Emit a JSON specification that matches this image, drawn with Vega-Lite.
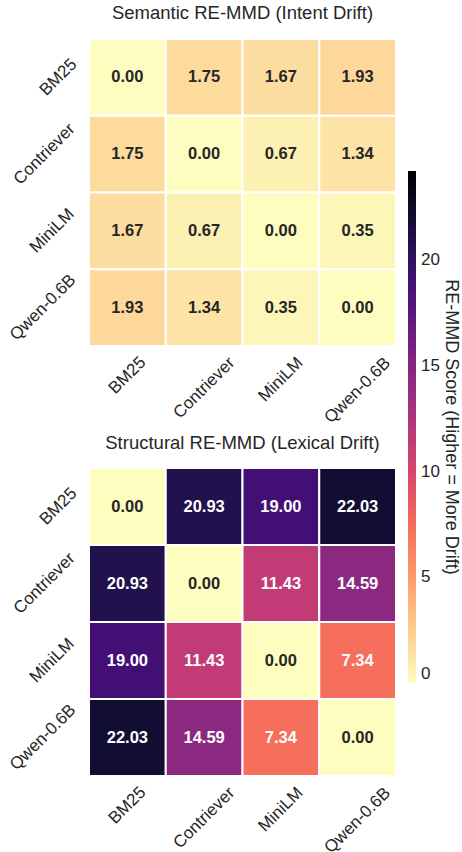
{
  "$schema": "https://vega.github.io/schema/vega-lite/v6.json",
  "padding": {"left": 6, "top": 3, "right": 2, "bottom": 20},
  "bounds": "flush",
  "spacing": 122,
  "config": {
    "font": "Liberation Sans",
    "view": {"stroke": null},
    "axis": {"labelFont": "Liberation Sans", "labelColor": "#262626", "labelFontSize": 17}
  },
  "data": {
    "values": [
      {"panel": "Semantic", "row": "BM25", "col": "BM25", "value": 0.0},
      {"panel": "Semantic", "row": "BM25", "col": "Contriever", "value": 1.75},
      {"panel": "Semantic", "row": "BM25", "col": "MiniLM", "value": 1.67},
      {"panel": "Semantic", "row": "BM25", "col": "Qwen-0.6B", "value": 1.93},
      {"panel": "Semantic", "row": "Contriever", "col": "BM25", "value": 1.75},
      {"panel": "Semantic", "row": "Contriever", "col": "Contriever", "value": 0.0},
      {"panel": "Semantic", "row": "Contriever", "col": "MiniLM", "value": 0.67},
      {"panel": "Semantic", "row": "Contriever", "col": "Qwen-0.6B", "value": 1.34},
      {"panel": "Semantic", "row": "MiniLM", "col": "BM25", "value": 1.67},
      {"panel": "Semantic", "row": "MiniLM", "col": "Contriever", "value": 0.67},
      {"panel": "Semantic", "row": "MiniLM", "col": "MiniLM", "value": 0.0},
      {"panel": "Semantic", "row": "MiniLM", "col": "Qwen-0.6B", "value": 0.35},
      {"panel": "Semantic", "row": "Qwen-0.6B", "col": "BM25", "value": 1.93},
      {"panel": "Semantic", "row": "Qwen-0.6B", "col": "Contriever", "value": 1.34},
      {"panel": "Semantic", "row": "Qwen-0.6B", "col": "MiniLM", "value": 0.35},
      {"panel": "Semantic", "row": "Qwen-0.6B", "col": "Qwen-0.6B", "value": 0.0},
      {"panel": "Structural", "row": "BM25", "col": "BM25", "value": 0.0},
      {"panel": "Structural", "row": "BM25", "col": "Contriever", "value": 20.93},
      {"panel": "Structural", "row": "BM25", "col": "MiniLM", "value": 19.0},
      {"panel": "Structural", "row": "BM25", "col": "Qwen-0.6B", "value": 22.03},
      {"panel": "Structural", "row": "Contriever", "col": "BM25", "value": 20.93},
      {"panel": "Structural", "row": "Contriever", "col": "Contriever", "value": 0.0},
      {"panel": "Structural", "row": "Contriever", "col": "MiniLM", "value": 11.43},
      {"panel": "Structural", "row": "Contriever", "col": "Qwen-0.6B", "value": 14.59},
      {"panel": "Structural", "row": "MiniLM", "col": "BM25", "value": 19.0},
      {"panel": "Structural", "row": "MiniLM", "col": "Contriever", "value": 11.43},
      {"panel": "Structural", "row": "MiniLM", "col": "MiniLM", "value": 0.0},
      {"panel": "Structural", "row": "MiniLM", "col": "Qwen-0.6B", "value": 7.34},
      {"panel": "Structural", "row": "Qwen-0.6B", "col": "BM25", "value": 22.03},
      {"panel": "Structural", "row": "Qwen-0.6B", "col": "Contriever", "value": 14.59},
      {"panel": "Structural", "row": "Qwen-0.6B", "col": "MiniLM", "value": 7.34},
      {"panel": "Structural", "row": "Qwen-0.6B", "col": "Qwen-0.6B", "value": 0.0}
    ]
  },
  "resolve": {"scale": {"color": "shared"}},
  "vconcat": [
    {
      "width": 307,
      "height": 307,
      "title": {"text": "Semantic RE-MMD (Intent Drift)", "fontSize": 18.5, "font": "Liberation Sans", "fontWeight": "normal", "color": "#262626", "baseline": "alphabetic", "offset": 1, "frame": "group"},
      "transform": [{"filter": "datum.panel === 'Semantic'"}],
      "encoding": {
        "x": {
          "field": "col", "type": "nominal", "sort": ["BM25", "Contriever", "MiniLM", "Qwen-0.6B"],
          "scale": {"paddingInner": 0, "paddingOuter": 0},
          "axis": {"title": null, "domain": false, "ticks": false, "labelAngle": -45, "labelAlign": "center", "labelBaseline": "middle",
            "labelPadding": {"condition": [{"test": "datum.value === 'BM25'", "value": 29}, {"test": "datum.value === 'Contriever'", "value": 41.5}, {"test": "datum.value === 'MiniLM'", "value": 33}], "value": 44}}
        },
        "y": {
          "field": "row", "type": "nominal", "sort": ["BM25", "Contriever", "MiniLM", "Qwen-0.6B"],
          "scale": {"paddingInner": 0, "paddingOuter": 0},
          "axis": {"title": null, "domain": false, "ticks": false, "labelAngle": -45, "labelAlign": "center", "labelBaseline": "middle",
            "labelPadding": {"condition": [{"test": "datum.value === 'BM25'", "value": 31}, {"test": "datum.value === 'Contriever'", "value": 45}, {"test": "datum.value === 'MiniLM'", "value": 37.5}], "value": 46.5}}
        }
      },
      "layer": [
        {
          "mark": {"type": "rect", "stroke": "white", "strokeWidth": 2},
          "encoding": {
            "color": {
              "field": "value", "type": "quantitative",
              "scale": {"scheme": "magma", "reverse": true, "domain": [0, 24.23]},
              "legend": {"orient": "none", "legendX": 319, "legendY": 132, "direction": "vertical", "gradientLength": 512, "gradientThickness": 8, "gradientStrokeWidth": 0,
                "values": [0, 5, 10, 15, 20], "labelFontSize": 17, "labelColor": "#262626", "labelFont": "Liberation Sans", "labelOffset": 5, "labelOverlap": false,
                "title": "RE-MMD Score (Higher = More Drift)", "titleOrient": "right", "titleAngle": 90, "titleAnchor": "middle", "titleFontSize": 18, "titleFontWeight": "normal",
                "titleColor": "#262626", "titleFont": "Liberation Sans", "titlePadding": 2, "titleLimit": 1000}
            }
          }
        },
        {
          "mark": {"type": "text", "fontSize": 16.5, "fontWeight": "bold", "font": "Liberation Sans"},
          "encoding": {
            "text": {"field": "value", "type": "quantitative", "format": ".2f"},
            "color": {"condition": {"test": "datum.value > 5", "value": "white"}, "value": "#262626"}
          }
        }
      ]
    },
    {
      "width": 307,
      "height": 308,
      "title": {"text": "Structural RE-MMD (Lexical Drift)", "fontSize": 18.5, "font": "Liberation Sans", "fontWeight": "normal", "color": "#262626", "baseline": "alphabetic", "offset": 0, "frame": "group"},
      "transform": [{"filter": "datum.panel === 'Structural'"}],
      "encoding": {
        "x": {
          "field": "col", "type": "nominal", "sort": ["BM25", "Contriever", "MiniLM", "Qwen-0.6B"],
          "scale": {"paddingInner": 0, "paddingOuter": 0},
          "axis": {"title": null, "domain": false, "ticks": false, "labelAngle": -45, "labelAlign": "center", "labelBaseline": "middle",
            "labelPadding": {"condition": [{"test": "datum.value === 'BM25'", "value": 29}, {"test": "datum.value === 'Contriever'", "value": 41.5}, {"test": "datum.value === 'MiniLM'", "value": 33}], "value": 44}}
        },
        "y": {
          "field": "row", "type": "nominal", "sort": ["BM25", "Contriever", "MiniLM", "Qwen-0.6B"],
          "scale": {"paddingInner": 0, "paddingOuter": 0},
          "axis": {"title": null, "domain": false, "ticks": false, "labelAngle": -45, "labelAlign": "center", "labelBaseline": "middle",
            "labelPadding": {"condition": [{"test": "datum.value === 'BM25'", "value": 31}, {"test": "datum.value === 'Contriever'", "value": 45}, {"test": "datum.value === 'MiniLM'", "value": 37.5}], "value": 46.5}}
        }
      },
      "layer": [
        {
          "mark": {"type": "rect", "stroke": "white", "strokeWidth": 2},
          "encoding": {
            "color": {
              "field": "value", "type": "quantitative",
              "scale": {"scheme": "magma", "reverse": true, "domain": [0, 24.23]},
              "legend": {"orient": "none", "legendX": 319, "legendY": 132, "direction": "vertical", "gradientLength": 512, "gradientThickness": 8, "gradientStrokeWidth": 0,
                "values": [0, 5, 10, 15, 20], "labelFontSize": 17, "labelColor": "#262626", "labelFont": "Liberation Sans", "labelOffset": 5, "labelOverlap": false,
                "title": "RE-MMD Score (Higher = More Drift)", "titleOrient": "right", "titleAngle": 90, "titleAnchor": "middle", "titleFontSize": 18, "titleFontWeight": "normal",
                "titleColor": "#262626", "titleFont": "Liberation Sans", "titlePadding": 2, "titleLimit": 1000}
            }
          }
        },
        {
          "mark": {"type": "text", "fontSize": 16.5, "fontWeight": "bold", "font": "Liberation Sans"},
          "encoding": {
            "text": {"field": "value", "type": "quantitative", "format": ".2f"},
            "color": {"condition": {"test": "datum.value > 5", "value": "white"}, "value": "#262626"}
          }
        }
      ]
    }
  ]
}
